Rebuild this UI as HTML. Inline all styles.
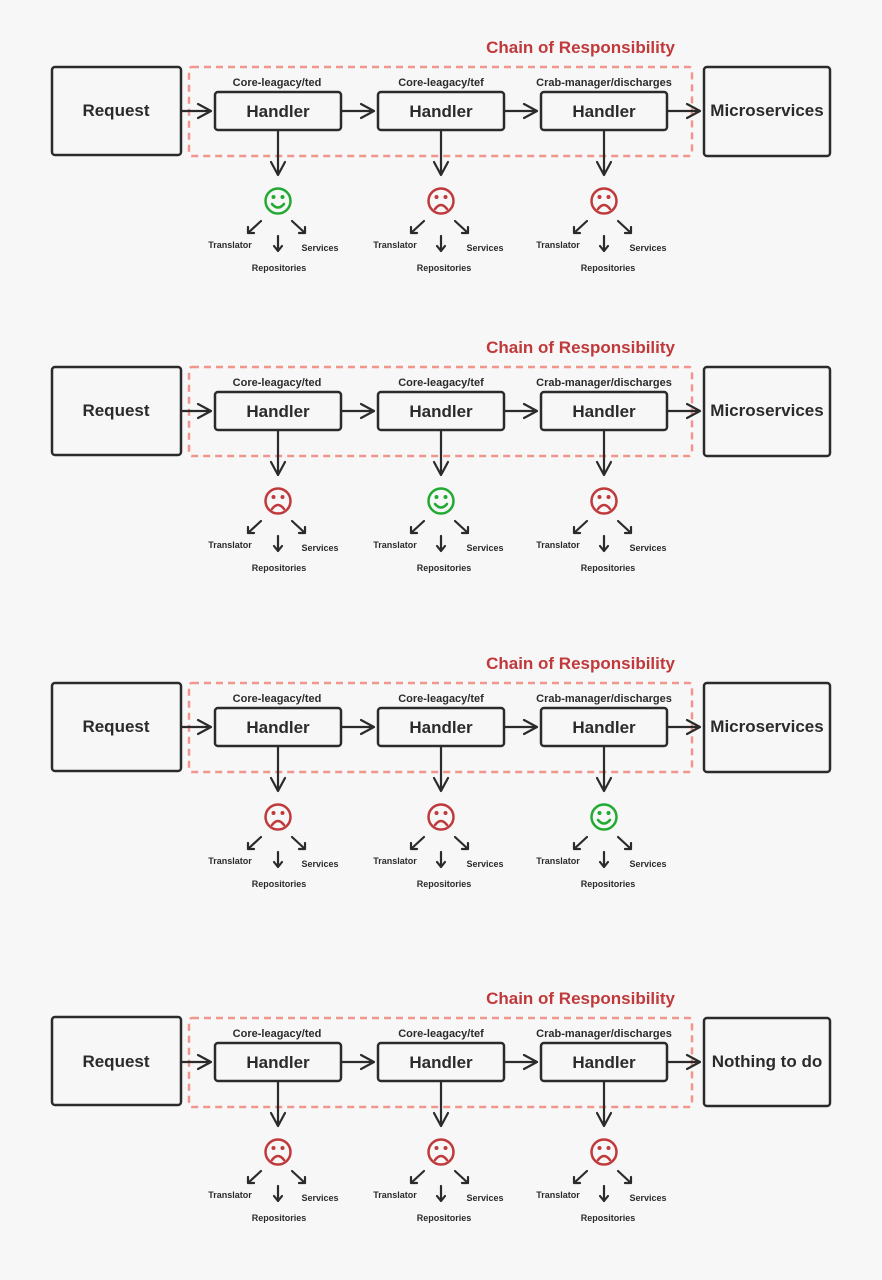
<!DOCTYPE html>
<html><head><meta charset="utf-8"><style>
html,body{margin:0;padding:0;background:#f7f7f7;}
svg{display:block;}
text{font-family:"Liberation Sans",sans-serif;font-weight:bold;fill:#2b2b2b;}
.box{fill:none;stroke:#2b2b2b;stroke-width:2.5;}
.ln{stroke:#2b2b2b;stroke-width:2.2;fill:none;stroke-linecap:round;stroke-linejoin:round;}
.ah{stroke:#2b2b2b;stroke-width:2.2;fill:none;stroke-linecap:round;stroke-linejoin:round;}
.dash{fill:none;stroke:#f0968a;stroke-width:2.5;stroke-dasharray:7 5;}
.big{font-size:17px;}
.lbl{font-size:11px;}
.sm{font-size:9px;}
.title{font-size:17px;fill:#c0393b;}
.g circle,.g path{stroke:#22aa33;}
.g .dot{fill:#22aa33;stroke:none;}
.r circle,.r path{stroke:#c0393b;}
.r .dot{fill:#c0393b;stroke:none;}
.face circle.o{fill:none;stroke-width:2.5;}
.face path{fill:none;stroke-width:2.5;stroke-linecap:round;}
</style></head><body>
<svg width="882" height="1280" viewBox="0 0 882 1280" xmlns="http://www.w3.org/2000/svg">
<defs>
<marker id="sa" markerWidth="8" markerHeight="8" refX="6" refY="4" orient="auto" markerUnits="userSpaceOnUse">
<path d="M1,0.5 L6.5,4 L1,7.5" fill="none" stroke="#2b2b2b" stroke-width="2.2" stroke-linecap="round" stroke-linejoin="round"/>
</marker>
</defs>

<!-- PANEL template repeated -->
<g id="p1">
<text class="title" x="675" y="53" text-anchor="end">Chain of Responsibility</text>
<rect class="dash" x="189" y="67" width="503" height="89" rx="3"/>
<rect class="box" x="52" y="67" width="129" height="88" rx="3"/>
<text class="big" x="116" y="116" text-anchor="middle">Request</text>
<rect class="box" x="704" y="67" width="126" height="89" rx="3"/>
<text class="big" x="767" y="116" text-anchor="middle">Microservices</text>
<rect class="box" x="215" y="92" width="126" height="38" rx="3"/>
<rect class="box" x="378" y="92" width="126" height="38" rx="3"/>
<rect class="box" x="541" y="92" width="126" height="38" rx="3"/>
<text class="big" x="278" y="117" text-anchor="middle">Handler</text>
<text class="big" x="441" y="117" text-anchor="middle">Handler</text>
<text class="big" x="604" y="117" text-anchor="middle">Handler</text>
<text class="lbl" x="277" y="86" text-anchor="middle">Core-leagacy/ted</text>
<text class="lbl" x="441" y="86" text-anchor="middle">Core-leagacy/tef</text>
<text class="lbl" x="604" y="86" text-anchor="middle">Crab-manager/discharges</text>
<!-- horizontal arrows -->
<path class="ln" d="M181,111 H211 M198,104 L211,111 L198,118"/>
<path class="ln" d="M341,111 H374 M361,104 L374,111 L361,118"/>
<path class="ln" d="M504,111 H537 M524,104 L537,111 L524,118"/>
<path class="ln" d="M667,111 H700 M687,104 L700,111 L687,118"/>
<!-- down arrows -->
<path class="ln" d="M278,130 V175 M271,162 L278,175 L285,162"/>
<path class="ln" d="M441,130 V175 M434,162 L441,175 L448,162"/>
<path class="ln" d="M604,130 V175 M597,162 L604,175 L611,162"/>
<!-- sub arrows & labels -->
<g>
<path class="ln" d="M261,221 L248,233 M248,227 L248,233 L254,233"/>
<path class="ln" d="M278,236 V251 M274,246 L278,251 L282,246"/>
<path class="ln" d="M292,221 L305,233 M305,227 L305,233 L299,233"/>
<text class="sm" x="230" y="248" text-anchor="middle">Translator</text>
<text class="sm" x="320" y="251" text-anchor="middle">Services</text>
<text class="sm" x="279" y="271" text-anchor="middle">Repositories</text>
</g>
<g transform="translate(163,0)">
<path class="ln" d="M261,221 L248,233 M248,227 L248,233 L254,233"/>
<path class="ln" d="M278,236 V251 M274,246 L278,251 L282,246"/>
<path class="ln" d="M292,221 L305,233 M305,227 L305,233 L299,233"/>
<text class="sm" x="232" y="248" text-anchor="middle">Translator</text>
<text class="sm" x="322" y="251" text-anchor="middle">Services</text>
<text class="sm" x="281" y="271" text-anchor="middle">Repositories</text>
</g>
<g transform="translate(326,0)">
<path class="ln" d="M261,221 L248,233 M248,227 L248,233 L254,233"/>
<path class="ln" d="M278,236 V251 M274,246 L278,251 L282,246"/>
<path class="ln" d="M292,221 L305,233 M305,227 L305,233 L299,233"/>
<text class="sm" x="232" y="248" text-anchor="middle">Translator</text>
<text class="sm" x="322" y="251" text-anchor="middle">Services</text>
<text class="sm" x="282" y="271" text-anchor="middle">Repositories</text>
</g>
<!-- faces -->
<g class="face g"><circle class="o" cx="278" cy="201" r="12.5"/><circle class="dot" cx="273.5" cy="197" r="2"/><circle class="dot" cx="282.5" cy="197" r="2"/><path d="M272,204 Q278,211 284,204"/></g>
<g class="face r"><circle class="o" cx="441" cy="201" r="12.5"/><circle class="dot" cx="436.5" cy="197" r="2"/><circle class="dot" cx="445.5" cy="197" r="2"/><path d="M435,209 Q441,201 447,209"/></g>
<g class="face r"><circle class="o" cx="604" cy="201" r="12.5"/><circle class="dot" cx="599.5" cy="197" r="2"/><circle class="dot" cx="608.5" cy="197" r="2"/><path d="M598,209 Q604,201 610,209"/></g>
</g>

<g transform="translate(0,300)">
<text class="title" x="675" y="53" text-anchor="end">Chain of Responsibility</text>
<rect class="dash" x="189" y="67" width="503" height="89" rx="3"/>
<rect class="box" x="52" y="67" width="129" height="88" rx="3"/>
<text class="big" x="116" y="116" text-anchor="middle">Request</text>
<rect class="box" x="704" y="67" width="126" height="89" rx="3"/>
<text class="big" x="767" y="116" text-anchor="middle">Microservices</text>
<rect class="box" x="215" y="92" width="126" height="38" rx="3"/>
<rect class="box" x="378" y="92" width="126" height="38" rx="3"/>
<rect class="box" x="541" y="92" width="126" height="38" rx="3"/>
<text class="big" x="278" y="117" text-anchor="middle">Handler</text>
<text class="big" x="441" y="117" text-anchor="middle">Handler</text>
<text class="big" x="604" y="117" text-anchor="middle">Handler</text>
<text class="lbl" x="277" y="86" text-anchor="middle">Core-leagacy/ted</text>
<text class="lbl" x="441" y="86" text-anchor="middle">Core-leagacy/tef</text>
<text class="lbl" x="604" y="86" text-anchor="middle">Crab-manager/discharges</text>
<path class="ln" d="M181,111 H211 M198,104 L211,111 L198,118"/>
<path class="ln" d="M341,111 H374 M361,104 L374,111 L361,118"/>
<path class="ln" d="M504,111 H537 M524,104 L537,111 L524,118"/>
<path class="ln" d="M667,111 H700 M687,104 L700,111 L687,118"/>
<path class="ln" d="M278,130 V175 M271,162 L278,175 L285,162"/>
<path class="ln" d="M441,130 V175 M434,162 L441,175 L448,162"/>
<path class="ln" d="M604,130 V175 M597,162 L604,175 L611,162"/>
<g>
<path class="ln" d="M261,221 L248,233 M248,227 L248,233 L254,233"/>
<path class="ln" d="M278,236 V251 M274,246 L278,251 L282,246"/>
<path class="ln" d="M292,221 L305,233 M305,227 L305,233 L299,233"/>
<text class="sm" x="230" y="248" text-anchor="middle">Translator</text>
<text class="sm" x="320" y="251" text-anchor="middle">Services</text>
<text class="sm" x="279" y="271" text-anchor="middle">Repositories</text>
</g>
<g transform="translate(163,0)">
<path class="ln" d="M261,221 L248,233 M248,227 L248,233 L254,233"/>
<path class="ln" d="M278,236 V251 M274,246 L278,251 L282,246"/>
<path class="ln" d="M292,221 L305,233 M305,227 L305,233 L299,233"/>
<text class="sm" x="232" y="248" text-anchor="middle">Translator</text>
<text class="sm" x="322" y="251" text-anchor="middle">Services</text>
<text class="sm" x="281" y="271" text-anchor="middle">Repositories</text>
</g>
<g transform="translate(326,0)">
<path class="ln" d="M261,221 L248,233 M248,227 L248,233 L254,233"/>
<path class="ln" d="M278,236 V251 M274,246 L278,251 L282,246"/>
<path class="ln" d="M292,221 L305,233 M305,227 L305,233 L299,233"/>
<text class="sm" x="232" y="248" text-anchor="middle">Translator</text>
<text class="sm" x="322" y="251" text-anchor="middle">Services</text>
<text class="sm" x="282" y="271" text-anchor="middle">Repositories</text>
</g>
<g class="face r"><circle class="o" cx="278" cy="201" r="12.5"/><circle class="dot" cx="273.5" cy="197" r="2"/><circle class="dot" cx="282.5" cy="197" r="2"/><path d="M272,209 Q278,201 284,209"/></g>
<g class="face g"><circle class="o" cx="441" cy="201" r="12.5"/><circle class="dot" cx="436.5" cy="197" r="2"/><circle class="dot" cx="445.5" cy="197" r="2"/><path d="M435,204 Q441,211 447,204"/></g>
<g class="face r"><circle class="o" cx="604" cy="201" r="12.5"/><circle class="dot" cx="599.5" cy="197" r="2"/><circle class="dot" cx="608.5" cy="197" r="2"/><path d="M598,209 Q604,201 610,209"/></g>
</g>

<g transform="translate(0,616)">
<text class="title" x="675" y="53" text-anchor="end">Chain of Responsibility</text>
<rect class="dash" x="189" y="67" width="503" height="89" rx="3"/>
<rect class="box" x="52" y="67" width="129" height="88" rx="3"/>
<text class="big" x="116" y="116" text-anchor="middle">Request</text>
<rect class="box" x="704" y="67" width="126" height="89" rx="3"/>
<text class="big" x="767" y="116" text-anchor="middle">Microservices</text>
<rect class="box" x="215" y="92" width="126" height="38" rx="3"/>
<rect class="box" x="378" y="92" width="126" height="38" rx="3"/>
<rect class="box" x="541" y="92" width="126" height="38" rx="3"/>
<text class="big" x="278" y="117" text-anchor="middle">Handler</text>
<text class="big" x="441" y="117" text-anchor="middle">Handler</text>
<text class="big" x="604" y="117" text-anchor="middle">Handler</text>
<text class="lbl" x="277" y="86" text-anchor="middle">Core-leagacy/ted</text>
<text class="lbl" x="441" y="86" text-anchor="middle">Core-leagacy/tef</text>
<text class="lbl" x="604" y="86" text-anchor="middle">Crab-manager/discharges</text>
<path class="ln" d="M181,111 H211 M198,104 L211,111 L198,118"/>
<path class="ln" d="M341,111 H374 M361,104 L374,111 L361,118"/>
<path class="ln" d="M504,111 H537 M524,104 L537,111 L524,118"/>
<path class="ln" d="M667,111 H700 M687,104 L700,111 L687,118"/>
<path class="ln" d="M278,130 V175 M271,162 L278,175 L285,162"/>
<path class="ln" d="M441,130 V175 M434,162 L441,175 L448,162"/>
<path class="ln" d="M604,130 V175 M597,162 L604,175 L611,162"/>
<g>
<path class="ln" d="M261,221 L248,233 M248,227 L248,233 L254,233"/>
<path class="ln" d="M278,236 V251 M274,246 L278,251 L282,246"/>
<path class="ln" d="M292,221 L305,233 M305,227 L305,233 L299,233"/>
<text class="sm" x="230" y="248" text-anchor="middle">Translator</text>
<text class="sm" x="320" y="251" text-anchor="middle">Services</text>
<text class="sm" x="279" y="271" text-anchor="middle">Repositories</text>
</g>
<g transform="translate(163,0)">
<path class="ln" d="M261,221 L248,233 M248,227 L248,233 L254,233"/>
<path class="ln" d="M278,236 V251 M274,246 L278,251 L282,246"/>
<path class="ln" d="M292,221 L305,233 M305,227 L305,233 L299,233"/>
<text class="sm" x="232" y="248" text-anchor="middle">Translator</text>
<text class="sm" x="322" y="251" text-anchor="middle">Services</text>
<text class="sm" x="281" y="271" text-anchor="middle">Repositories</text>
</g>
<g transform="translate(326,0)">
<path class="ln" d="M261,221 L248,233 M248,227 L248,233 L254,233"/>
<path class="ln" d="M278,236 V251 M274,246 L278,251 L282,246"/>
<path class="ln" d="M292,221 L305,233 M305,227 L305,233 L299,233"/>
<text class="sm" x="232" y="248" text-anchor="middle">Translator</text>
<text class="sm" x="322" y="251" text-anchor="middle">Services</text>
<text class="sm" x="282" y="271" text-anchor="middle">Repositories</text>
</g>
<g class="face r"><circle class="o" cx="278" cy="201" r="12.5"/><circle class="dot" cx="273.5" cy="197" r="2"/><circle class="dot" cx="282.5" cy="197" r="2"/><path d="M272,209 Q278,201 284,209"/></g>
<g class="face r"><circle class="o" cx="441" cy="201" r="12.5"/><circle class="dot" cx="436.5" cy="197" r="2"/><circle class="dot" cx="445.5" cy="197" r="2"/><path d="M435,209 Q441,201 447,209"/></g>
<g class="face g"><circle class="o" cx="604" cy="201" r="12.5"/><circle class="dot" cx="599.5" cy="197" r="2"/><circle class="dot" cx="608.5" cy="197" r="2"/><path d="M598,204 Q604,211 610,204"/></g>
</g>

<g transform="translate(0,950)">
<text class="title" x="675" y="54" text-anchor="end">Chain of Responsibility</text>
<rect class="dash" x="189" y="68" width="503" height="89" rx="3"/>
<rect class="box" x="52" y="67" width="129" height="88" rx="3"/>
<text class="big" x="116" y="117" text-anchor="middle">Request</text>
<rect class="box" x="704" y="68" width="126" height="88" rx="3"/>
<text class="big" x="767" y="117" text-anchor="middle">Nothing to do</text>
<rect class="box" x="215" y="93" width="126" height="38" rx="3"/>
<rect class="box" x="378" y="93" width="126" height="38" rx="3"/>
<rect class="box" x="541" y="93" width="126" height="38" rx="3"/>
<text class="big" x="278" y="118" text-anchor="middle">Handler</text>
<text class="big" x="441" y="118" text-anchor="middle">Handler</text>
<text class="big" x="604" y="118" text-anchor="middle">Handler</text>
<text class="lbl" x="277" y="87" text-anchor="middle">Core-leagacy/ted</text>
<text class="lbl" x="441" y="87" text-anchor="middle">Core-leagacy/tef</text>
<text class="lbl" x="604" y="87" text-anchor="middle">Crab-manager/discharges</text>
<path class="ln" d="M181,112 H211 M198,105 L211,112 L198,119"/>
<path class="ln" d="M341,112 H374 M361,105 L374,112 L361,119"/>
<path class="ln" d="M504,112 H537 M524,105 L537,112 L524,119"/>
<path class="ln" d="M667,112 H700 M687,105 L700,112 L687,119"/>
<path class="ln" d="M278,131 V176 M271,163 L278,176 L285,163"/>
<path class="ln" d="M441,131 V176 M434,163 L441,176 L448,163"/>
<path class="ln" d="M604,131 V176 M597,163 L604,176 L611,163"/>
<g>
<path class="ln" d="M261,221 L248,233 M248,227 L248,233 L254,233"/>
<path class="ln" d="M278,236 V251 M274,246 L278,251 L282,246"/>
<path class="ln" d="M292,221 L305,233 M305,227 L305,233 L299,233"/>
<text class="sm" x="230" y="248" text-anchor="middle">Translator</text>
<text class="sm" x="320" y="251" text-anchor="middle">Services</text>
<text class="sm" x="279" y="271" text-anchor="middle">Repositories</text>
</g>
<g transform="translate(163,0)">
<path class="ln" d="M261,221 L248,233 M248,227 L248,233 L254,233"/>
<path class="ln" d="M278,236 V251 M274,246 L278,251 L282,246"/>
<path class="ln" d="M292,221 L305,233 M305,227 L305,233 L299,233"/>
<text class="sm" x="232" y="248" text-anchor="middle">Translator</text>
<text class="sm" x="322" y="251" text-anchor="middle">Services</text>
<text class="sm" x="281" y="271" text-anchor="middle">Repositories</text>
</g>
<g transform="translate(326,0)">
<path class="ln" d="M261,221 L248,233 M248,227 L248,233 L254,233"/>
<path class="ln" d="M278,236 V251 M274,246 L278,251 L282,246"/>
<path class="ln" d="M292,221 L305,233 M305,227 L305,233 L299,233"/>
<text class="sm" x="232" y="248" text-anchor="middle">Translator</text>
<text class="sm" x="322" y="251" text-anchor="middle">Services</text>
<text class="sm" x="282" y="271" text-anchor="middle">Repositories</text>
</g>
<g class="face r"><circle class="o" cx="278" cy="202" r="12.5"/><circle class="dot" cx="273.5" cy="198" r="2"/><circle class="dot" cx="282.5" cy="198" r="2"/><path d="M272,210 Q278,202 284,210"/></g>
<g class="face r"><circle class="o" cx="441" cy="202" r="12.5"/><circle class="dot" cx="436.5" cy="198" r="2"/><circle class="dot" cx="445.5" cy="198" r="2"/><path d="M435,210 Q441,202 447,210"/></g>
<g class="face r"><circle class="o" cx="604" cy="202" r="12.5"/><circle class="dot" cx="599.5" cy="198" r="2"/><circle class="dot" cx="608.5" cy="198" r="2"/><path d="M598,210 Q604,202 610,210"/></g>
</g>
</svg>
</body></html>
